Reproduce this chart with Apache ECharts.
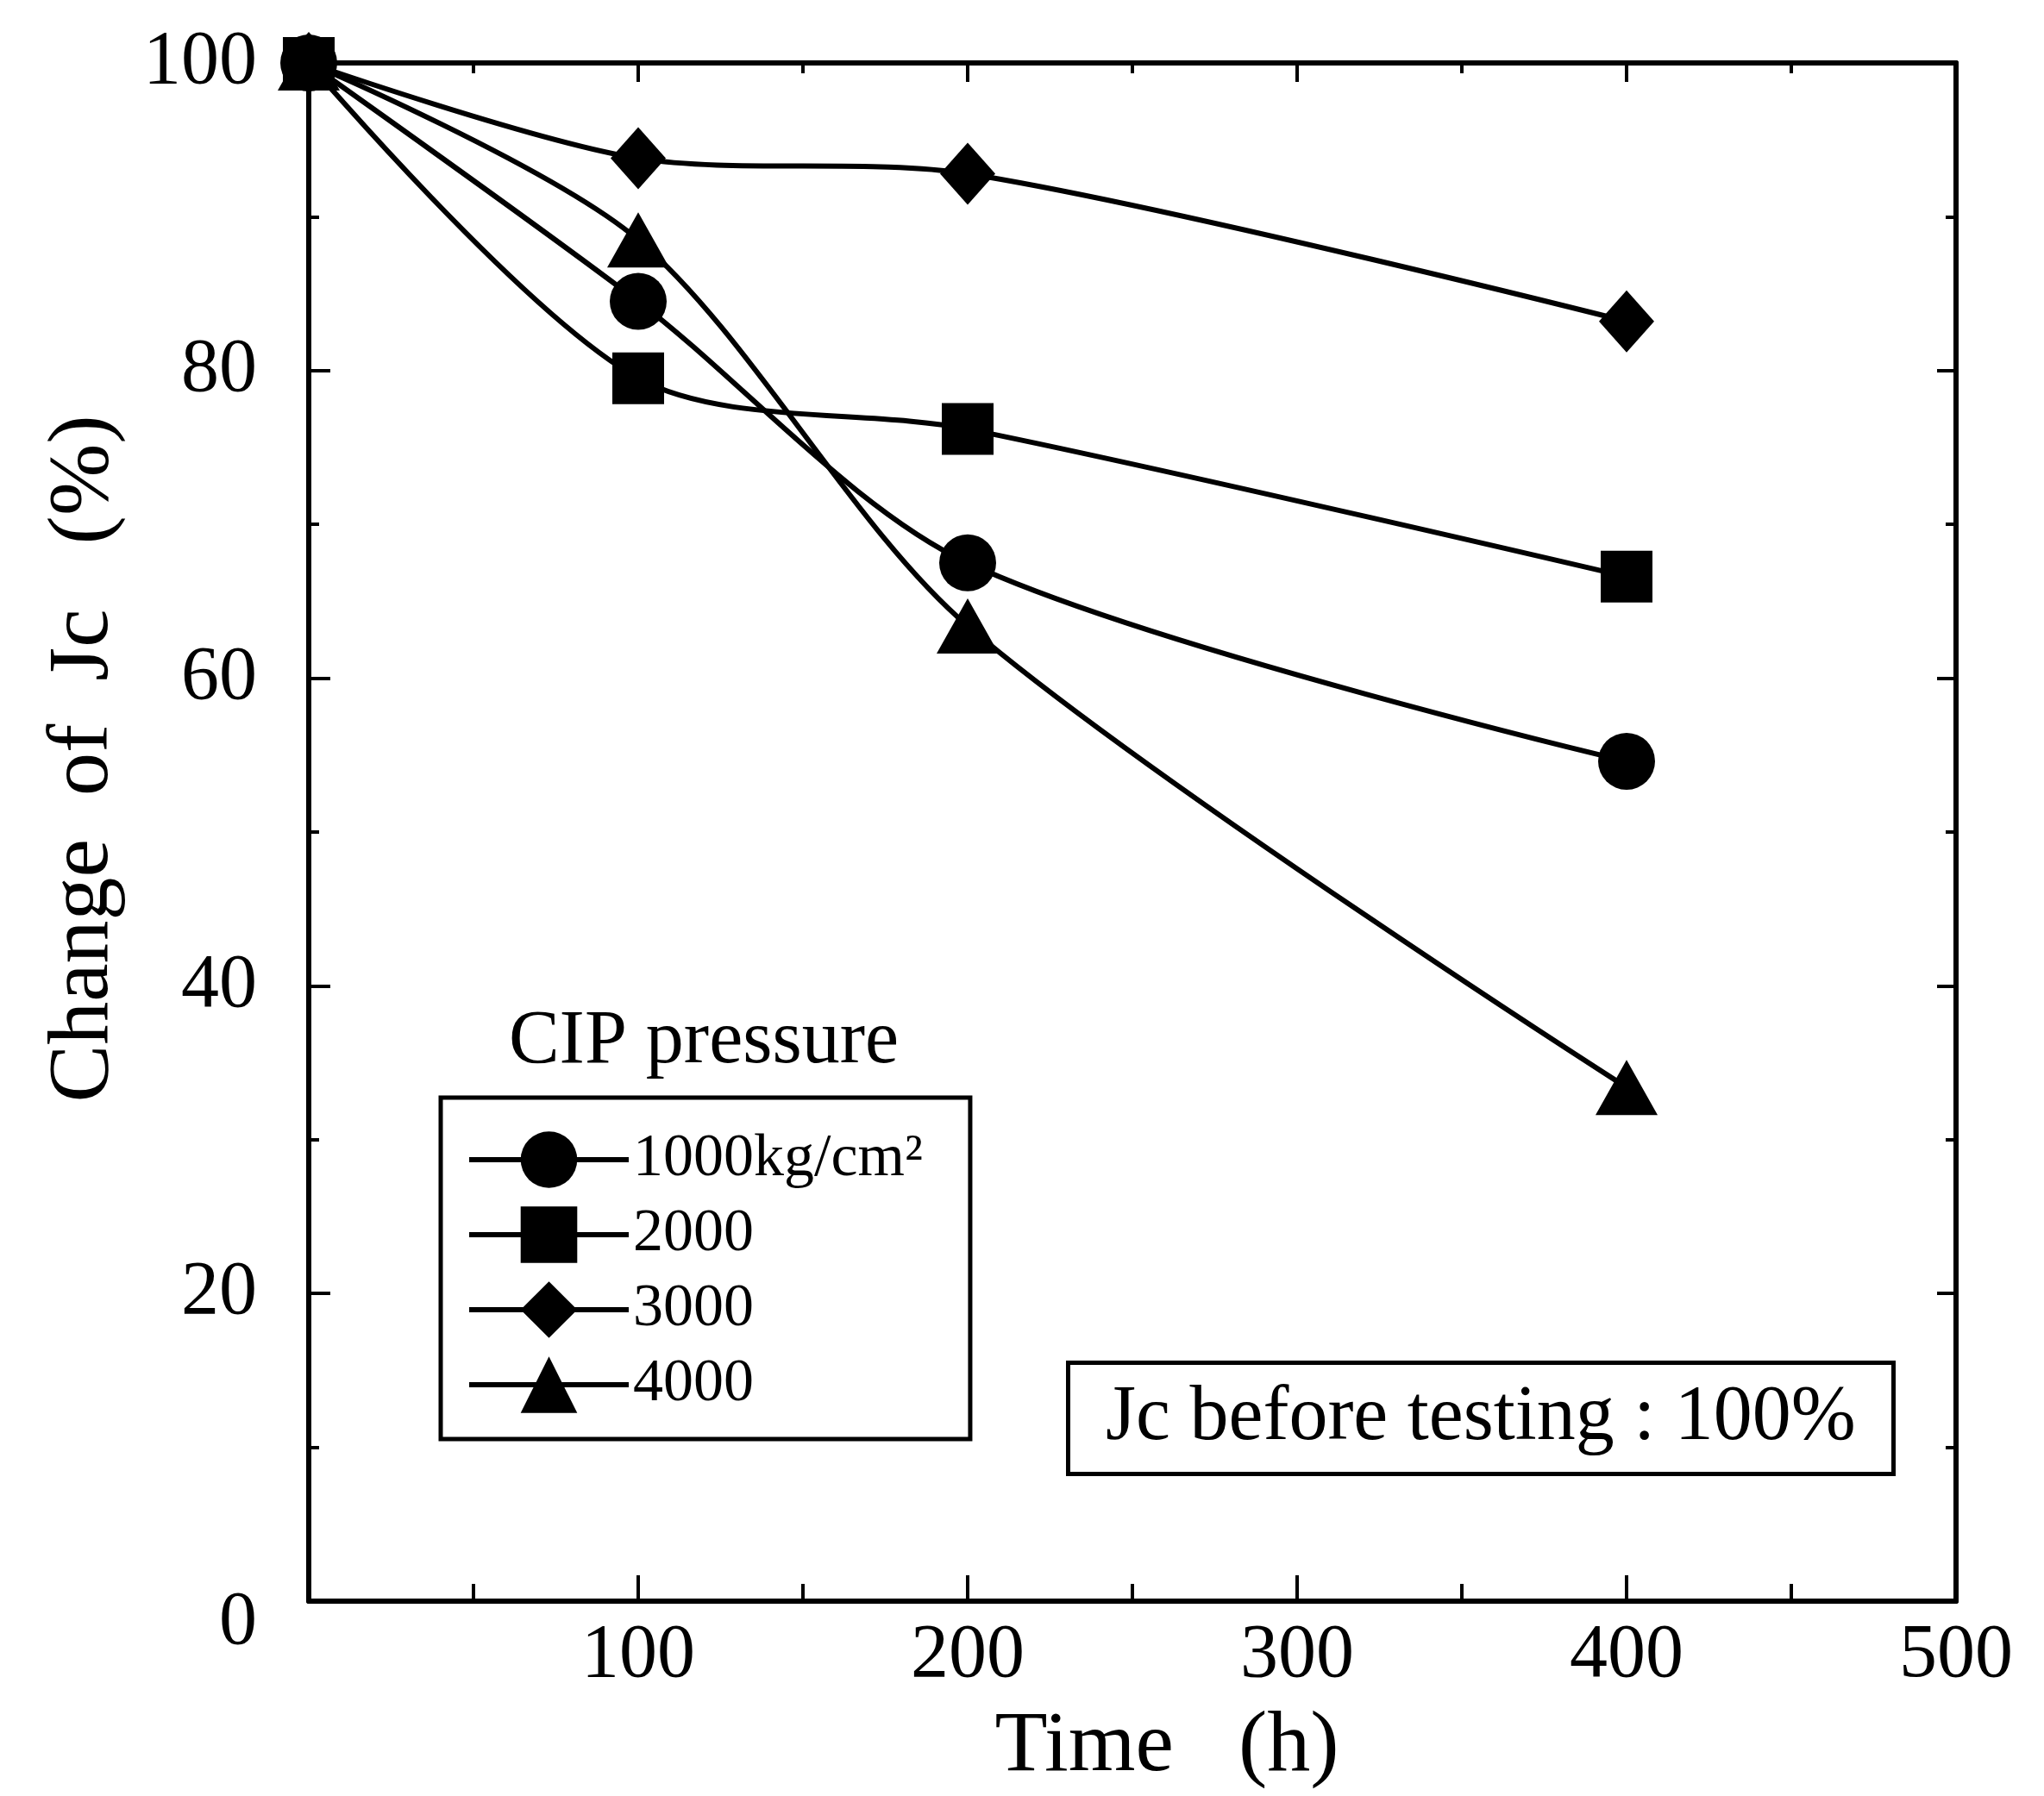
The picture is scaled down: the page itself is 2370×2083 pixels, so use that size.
<!DOCTYPE html>
<html>
<head>
<meta charset="utf-8">
<script src="https://cdn.jsdelivr.net/npm/echarts@6/dist/echarts.min.js"></script>
<style>
  html, body { margin: 0; padding: 0; background: #fff; }
  #chart { width: 2370px; height: 2083px; }
</style>
</head>
<body>
<div id="chart"></div>
<script>
  // data
  var times = [0, 100, 200, 400];
  var names = ['1000kg/cm²', '2000', '3000', '4000'];
  var jc1000 = [100, 84.5, 67.5, 54.6];
  var jc2000 = [100, 79.5, 76.2, 66.6];
  var jc3000 = [100, 93.8, 92.8, 83.2];
  var jc4000 = [100, 88.5, 63.4, 33.4];
  var symbols = ['circle', 'rect', 'diamond', 'triangle'];

  var font = 'Liberation Serif';

  function pairs(vals) {
    var out = [];
    for (var i = 0; i < times.length; i++) out.push([times[i], vals[i]]);
    return out;
  }

  function makeSeries(name, vals, symbol, size) {
    return {
      name: name,
      type: 'line',
      smooth: 0.3,
      data: pairs(vals),
      symbol: symbol,
      symbolSize: size,
      lineStyle: { color: '#000', width: 6 },
      itemStyle: { color: '#000' },
      z: 5
    };
  }

  var chart = echarts.init(document.getElementById('chart'));
  var axisLine = { show: true, onZero: false, lineStyle: { color: '#000', width: 6 } };
  var tickStyle = { width: 4, color: '#000' };

  chart.setOption({
    animation: false,
    backgroundColor: '#fff',
    grid: { left: 358, right: 102, top: 73, bottom: 226 },
    title: [
      {
        text: 'CIP pressure',
        left: 816, top: 1165, textAlign: 'center', padding: 0,
        textStyle: { fontFamily: font, fontSize: 88, fontWeight: 'normal', color: '#000', lineHeight: 88 }
      },
      {
        text: 'Jc before testing : 100%',
        left: 1238, top: 1580,
        padding: [20, 44, 20, 44],
        borderColor: '#000', borderWidth: 5,
        textStyle: { fontFamily: font, fontSize: 90, fontWeight: 'normal', color: '#000', lineHeight: 90 }
      }
    ],
    legend: {
      orient: 'vertical',
      left: 511, top: 1273,
      padding: [37, 55, 28, 30],
      borderColor: '#000', borderWidth: 5,
      backgroundColor: '#fff',
      itemWidth: 185, itemHeight: 82, itemGap: 17,
      lineStyle: { width: 6 },
      data: names,
      textStyle: { fontFamily: font, fontSize: 70, color: '#000' }
    },
    xAxis: [
      {
        type: 'value', min: 0, max: 500, interval: 100,
        axisLine: axisLine,
        splitLine: { show: false },
        axisTick: { inside: true, length: 30, lineStyle: tickStyle },
        minorTick: { show: true, splitNumber: 2, length: 20, lineStyle: tickStyle },
        axisLabel: {
          margin: 20, fontFamily: font, fontSize: 88, color: '#000',
          formatter: function (v) { return v === 0 ? '' : v; }
        },
        name: 'Time   (h)', nameLocation: 'middle', nameGap: 120,
        nameTextStyle: { fontFamily: font, fontSize: 100, color: '#000', padding: [0, 0, 0, 80] }
      },
      {
        type: 'value', min: 0, max: 500, interval: 100, position: 'top',
        axisLine: axisLine,
        splitLine: { show: false },
        axisTick: { inside: true, length: 22, lineStyle: tickStyle },
        minorTick: { show: true, splitNumber: 2, length: 12, lineStyle: tickStyle },
        axisLabel: { show: false }
      }
    ],
    yAxis: [
      {
        type: 'value', min: 0, max: 100, interval: 20,
        axisLine: axisLine,
        splitLine: { show: false },
        axisTick: { inside: true, length: 25, lineStyle: tickStyle },
        minorTick: { show: true, splitNumber: 2, length: 12, lineStyle: tickStyle },
        axisLabel: {
          margin: 60, fontFamily: font, fontSize: 88, color: '#000',
          formatter: function (v) { return v === 0 ? '{z|0}' : String(v); },
          rich: { z: { fontFamily: font, fontSize: 88, color: '#000', padding: [52, 0, 0, 0] } }
        },
        name: 'Change  of  Jc   (%)', nameLocation: 'middle', nameGap: 210,
        nameTextStyle: { fontFamily: font, fontSize: 100, color: '#000', padding: [0, 0, 0, 170] }
      },
      {
        type: 'value', min: 0, max: 100, interval: 20, position: 'right',
        axisLine: axisLine,
        splitLine: { show: false },
        axisTick: { inside: true, length: 22, lineStyle: tickStyle },
        minorTick: { show: true, splitNumber: 2, length: 12, lineStyle: tickStyle },
        axisLabel: { show: false }
      }
    ],
    series: [
      makeSeries(names[0], jc1000, symbols[0], 66),
      makeSeries(names[1], jc2000, symbols[1], 60),
      makeSeries(names[2], jc3000, symbols[2], [64, 72]),
      makeSeries(names[3], jc4000, symbols[3], [72, 64])
    ]
  });
</script>
</body>
</html>
